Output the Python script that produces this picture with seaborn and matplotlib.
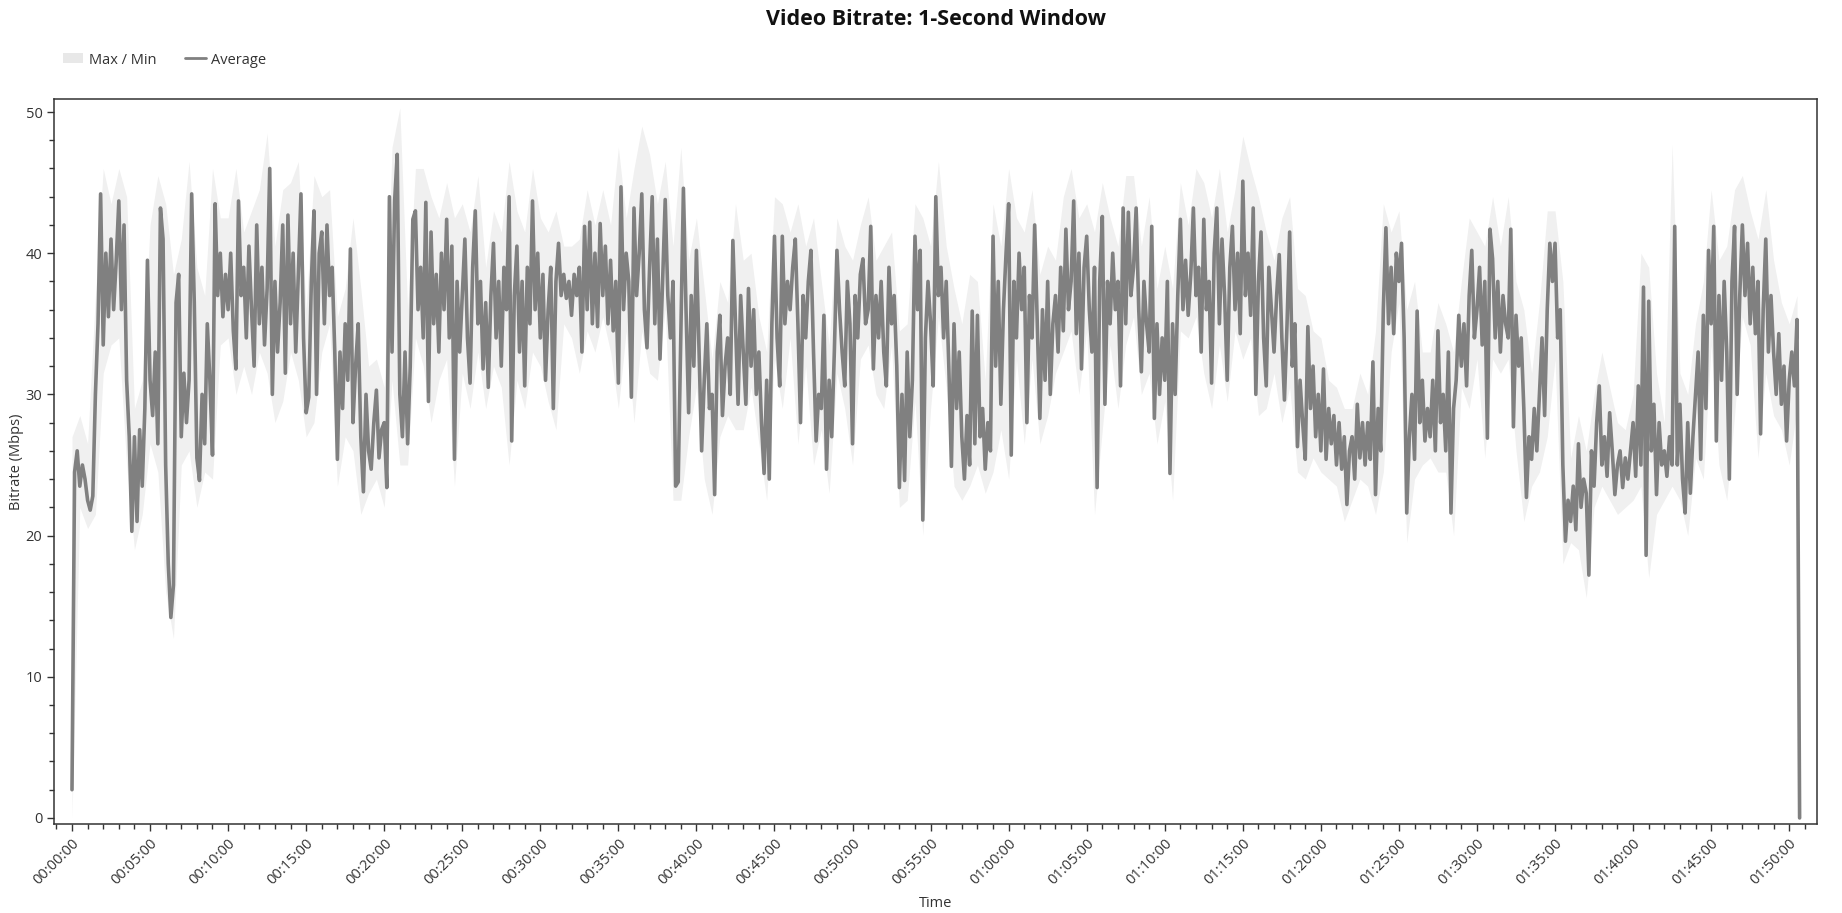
import numpy as np
import matplotlib
matplotlib.use("Agg")
import matplotlib.pyplot as plt
from matplotlib.ticker import MultipleLocator, FuncFormatter
from matplotlib.patches import Patch
from matplotlib.lines import Line2D
import seaborn as sns

# ---- data: 10-second average bitrate (Mbps) ----
avg_mbps = [
    2, 24.5, 26, 23.5, 25, 24, 22.5, 21.8, 22.8, 30, 35, 44.2,
    33.5, 40, 35.5, 41, 36, 39.5, 43.7, 36, 42, 31, 27, 20.3,
    27, 21, 27.5, 23.5, 29, 39.5, 31, 28.5, 33, 26.5, 43.2, 41,
    25, 18, 14.2, 16.5, 36.5, 38.5, 27, 31.5, 28, 31, 44.2, 36.5,
    25.5, 23.9, 30, 26.5, 35, 31, 25.7, 43.5, 37, 40, 35.5, 38.5,
    36, 40, 34.5, 31.8, 43.7, 37, 39, 34, 40.5, 36, 32, 42,
    35, 39, 33.5, 37.5, 46, 30, 38, 33, 36.5, 42, 31.5, 42.7,
    35, 40, 33, 38.5, 44.2, 34, 28.7, 29.8, 38, 43, 30, 40,
    41.5, 35, 42, 37, 39, 33, 25.4, 33, 29, 35, 31, 40.3,
    28, 32, 35, 27, 23.1, 30, 26, 24.7, 28, 30.3, 25.5, 27.5,
    28, 23.4, 44, 33, 43.7, 47, 30, 27, 33, 26.5, 32, 42.4,
    43, 36, 39, 34, 43.6, 29.5, 41.5, 35, 38.5, 33, 40, 36,
    42.4, 34, 40.5, 25.4, 38, 33, 37, 41, 34, 30.8, 39, 43,
    35, 38, 31.8, 36.5, 30.5, 37, 40.7, 34, 38, 32, 39, 36,
    44, 26.7, 37, 40.5, 33, 38, 30.6, 39, 35, 43.7, 36, 40,
    34, 38.5, 31, 36, 39, 29, 38, 40.7, 37, 38.5, 36.8, 38,
    35.6, 38.5, 37, 39, 33, 41.9, 36, 42.2, 35, 40, 34.8, 42.1,
    37, 40.5, 35, 39.5, 34.5, 38, 30.8, 44.7, 36, 40, 38, 29.8,
    43.2, 37, 40, 44.2, 36, 33.3, 39, 44, 35, 41, 32.5, 38,
    43.8, 37, 34, 38, 23.5, 23.8, 34, 44.6, 36, 28.7, 37, 32,
    40.2, 33, 26, 31, 35, 29, 30, 22.9, 33, 35.6, 28.5, 32,
    34, 30, 40.9, 35, 29.3, 37, 33, 29.3, 37.5, 32, 36, 30,
    33, 28, 24.4, 31, 24, 35, 41.2, 34, 30.6, 41.2, 35, 38,
    36, 39, 41, 35, 28, 37, 34, 38, 40.2, 33, 26.7, 30,
    29, 35.6, 24.7, 31, 27, 33, 40.2, 36, 33, 30.6, 38, 35,
    26.5, 37, 34, 38.5, 39.6, 35, 36, 41.9, 31.8, 37, 34, 38,
    33, 30.6, 39, 35, 37, 32, 23.4, 30, 23.9, 33, 27, 31,
    41.2, 36, 40.2, 21.1, 34, 38, 35, 30.6, 44, 37, 39, 34,
    38, 32, 24.9, 35, 29, 33, 27, 24, 28.5, 25, 35.9, 26.5,
    35.6, 27, 29, 24.7, 28, 26, 41.2, 32, 38, 29.3, 36, 40,
    43.5, 25.7, 38, 34, 40, 36, 39, 28, 37, 34, 42, 35,
    28.3, 36, 31, 38, 30, 35, 37, 33, 39, 34.5, 41.7, 36,
    38, 43.7, 34.3, 40, 31.8, 39, 41.2, 36, 33, 39, 23.4, 38,
    42.6, 29.3, 38, 35, 40, 36, 38, 30.6, 43.2, 35, 42.9, 37,
    39, 43.2, 36, 31.6, 38, 35, 33, 41.9, 28.3, 35, 30, 34,
    31, 38, 24.4, 35, 30, 37, 42.4, 36, 39.5, 35.6, 38.5, 43.2,
    37, 39, 33, 42.4, 36, 38, 30.8, 40, 43.2, 35, 41, 37,
    31, 39, 41.9, 36, 40, 34.3, 45.1, 37, 40, 35.6, 43.2, 30,
    38, 41.5, 34, 30.6, 39, 36, 33, 37, 39.9, 34, 29.6, 35,
    41.5, 32, 35, 26.3, 31, 28, 25.4, 34.8, 29, 32, 27, 30,
    26, 31.8, 25.4, 29, 26.5, 28.5, 25, 28, 24.7, 27, 22.2, 26,
    27, 24, 29.3, 25.5, 28, 25, 28, 25.4, 32.3, 22.9, 29, 26,
    36, 41.8, 35, 39, 34.3, 40, 38, 40.7, 34, 21.6, 27, 30,
    25.4, 35.9, 28, 31, 26.7, 29, 27, 31, 26, 34.5, 28, 30,
    26, 33, 21.6, 29, 31, 35.6, 32, 35, 30.6, 37, 40.2, 34,
    36, 39, 33.5, 38, 26.9, 41.7, 39.6, 34, 38, 33, 37, 35,
    34, 41.7, 27.7, 35.6, 32, 34, 29, 22.7, 27, 25.4, 29, 26,
    30, 34, 28.5, 36, 40.7, 38, 40.7, 34, 36, 25, 19.6, 22.5,
    21, 23.5, 20.4, 26.5, 22, 24, 23, 17.2, 26, 23.5, 28, 30.6,
    25, 27, 24.2, 28.7, 26, 22.9, 25, 26, 23.4, 25.5, 24, 26,
    28, 24.2, 30.6, 25, 37.6, 18.6, 36.6, 26, 29.3, 22.9, 28, 25,
    26, 24.2, 27, 25, 41.9, 25, 29.3, 24, 21.6, 28, 23, 27,
    30, 33, 25.4, 35.6, 29, 40.2, 35, 41.9, 26.7, 37, 31, 38,
    33, 24, 38, 41.9, 30, 37, 42, 37, 40.7, 35, 39, 34.3,
    38, 27.2, 36, 41, 33, 37, 33, 30, 34.3, 29.3, 32, 26.7,
    31, 33, 30.6, 35.3, 0,
]

# ---- data: 30-second max / min envelope (Mbps) ----
max_mbps = [
    27, 28.5, 26.5, 37, 46, 43.5, 46, 44, 29, 31, 42, 45.5,
    43.5, 38.5, 41, 46.5, 39, 37, 46, 42.5, 42.5, 46, 41.5, 43,
    44.5, 48.5, 40.5, 44.5, 45, 46.5, 36, 45.5, 44, 44.5, 35.5, 37.5,
    42.5, 37.5, 32, 32.5, 30.5, 47.5, 50.3, 36, 46, 46, 44, 42.5,
    45, 42.5, 43.5, 41.5, 45.5, 39, 43, 41.5, 46.5, 43, 41.5, 46,
    42.5, 41.5, 43, 40.5, 40.5, 41, 44.5, 42, 44.5, 42, 47.5, 42.5,
    46, 49, 47, 43.5, 46.5, 40.5, 47.5, 39.5, 42.5, 37.5, 32.5, 38,
    36.5, 43.5, 39.5, 40, 35.5, 33, 44, 43.5, 41.5, 43.5, 40.5, 42.5,
    38, 33.5, 42.5, 40.5, 39.5, 42, 44, 39.5, 40.5, 41.5, 34.5, 35,
    43.5, 42.5, 40.5, 46.5, 40.5, 37.5, 35, 38.5, 38, 31, 43.5, 40.5,
    46, 42.5, 41.5, 44.5, 38.5, 40.5, 39.5, 44, 46, 42.5, 43.5, 41.5,
    45, 42.5, 40.5, 45.5, 45.5, 40.5, 44, 37.5, 40.5, 37.5, 45, 42,
    46, 45, 42.5, 46, 41.5, 44.5, 48.3, 46, 44, 41.5, 39.5, 42.5,
    44, 37.5, 37, 34.5, 34, 31, 30.5, 29, 29, 31.5, 30, 34.5,
    43.5, 41.5, 43, 36, 38, 33, 33, 36.5, 35, 33, 38, 42.5,
    41.5, 40.5, 44, 40.5, 44, 38, 36, 31.5, 36.5, 43, 43, 38,
    25.5, 28.5, 26, 30, 33, 30.5, 28, 27.5, 30, 40, 39, 31.5,
    28, 47.7, 31.5, 30, 35, 38, 44.5, 39.5, 40.5, 44.5, 45.5, 43,
    41, 44.5, 39.5, 36.5, 35, 37, 0,
]
min_mbps = [
    0, 22, 20.5, 21.5, 31.5, 33.5, 34, 25, 19, 21.5, 26.5, 24.5,
    16, 12.7, 25, 26, 22, 24.5, 24, 33.5, 34, 30, 32, 30,
    33, 31.5, 28, 29.5, 33, 31, 27, 28, 33, 35, 23.5, 27,
    26, 21.5, 23, 24, 22, 31, 25, 25, 34, 32, 28, 31,
    32.5, 23.5, 31.5, 29, 33, 29, 32, 30.5, 25, 31, 29, 33,
    32, 29.5, 27.5, 35, 34, 31.5, 34.5, 33, 35.5, 33, 29, 34.5,
    28, 34.5, 31.5, 31, 36, 22.5, 22.5, 27, 30.5, 24, 21.5, 27,
    28.5, 27.5, 27.5, 30.5, 26.5, 22.5, 32.5, 29, 34, 26.5, 32, 25,
    27.5, 23, 31.5, 29, 25, 32.5, 33.5, 30, 29, 33.5, 22, 22.5,
    29.5, 20, 29, 35.5, 30.5, 23.5, 22.5, 23.5, 25, 23, 24.5, 27.5,
    24, 32.5, 26.5, 32.5, 26.5, 28.5, 31.5, 33, 34.5, 30, 34.5, 21.5,
    27.5, 33.5, 29, 33.5, 35.5, 30, 31.5, 26.5, 29.5, 22.5, 34.5, 34,
    35.5, 31.5, 29, 33.5, 29.5, 34.5, 32.5, 34, 28.5, 29, 31.5, 28,
    30.5, 24.5, 24, 25.5, 24.5, 24, 23.5, 21, 22.5, 24, 23.5, 21.5,
    24.5, 33, 36.5, 19.5, 24, 25, 25.5, 24.5, 24.5, 20, 30.5, 29,
    32.5, 25.5, 32.5, 31.5, 32.5, 26, 21, 23.5, 24.5, 27, 32.5, 18,
    19.5, 19, 15.6, 22, 23.5, 22.5, 21.5, 22, 22.5, 23.5, 17, 21.5,
    22.5, 23.5, 22.5, 20, 25.5, 24, 33.5, 25, 22.5, 28.5, 35.5, 33.5,
    25.5, 31.5, 28.5, 27.5, 25, 29, 0,
]

AVG_STEP_S = 10
BAND_STEP_S = 30
avg_t = np.arange(len(avg_mbps)) * AVG_STEP_S
band_t = np.append(np.arange(len(max_mbps) - 1) * BAND_STEP_S, avg_t[-1])

title_text = "Video Bitrate: 1-Second Window"
legend_labels = ["Max / Min", "Average"]
x_label = "Time"
y_label = "Bitrate (Mbps)"

# ---- styling ----
sns.set_style("ticks")
plt.rcParams["font.family"] = ["Open Sans", "DejaVu Sans"]
plt.rcParams["axes.edgecolor"] = "#333333"
plt.rcParams["xtick.color"] = "#333333"
plt.rcParams["ytick.color"] = "#333333"

W, H = 1842, 913
fig = plt.figure(figsize=(W / 100, H / 100), dpi=100)
ax_l, ax_r, ax_t, ax_b = 54.3, 1817.3, 99.3, 824.3
ax = fig.add_axes([ax_l / W, 1 - ax_b / H, (ax_r - ax_l) / W, (ax_b - ax_t) / H])

line_color = "#808080"
band_color = "#f0f0f0"

ax.fill_between(band_t, min_mbps, max_mbps, color=band_color, linewidth=0, zorder=1)
sns.lineplot(x=avg_t, y=avg_mbps, ax=ax, color=line_color, linewidth=2.6,
             estimator=None, sort=False, zorder=2, legend=False)

ax.set_xlim(-68, 6708)
ax.set_ylim(-0.45, 50.9)

def fmt_time(v, pos):
    v = int(round(v))
    h, r = divmod(v, 3600)
    m, s = divmod(r, 60)
    return f"{h:02d}:{m:02d}:{s:02d}"

ax.xaxis.set_major_locator(MultipleLocator(300))
ax.xaxis.set_minor_locator(MultipleLocator(60))
ax.xaxis.set_major_formatter(FuncFormatter(fmt_time))
ax.yaxis.set_major_locator(MultipleLocator(10))
ax.yaxis.set_minor_locator(MultipleLocator(2))

ax.tick_params(axis="both", which="major", length=5, width=1, labelsize=10.5,
               labelcolor="#333333", direction="out")
ax.tick_params(axis="both", which="minor", length=3.5, width=1, direction="out")
for lbl in ax.get_xticklabels():
    lbl.set_rotation(45)
    lbl.set_ha("right")
    lbl.set_rotation_mode("anchor")

for sp in ax.spines.values():
    sp.set_visible(True)
    sp.set_linewidth(1.1)
    sp.set_color("#333333")

ax.set_xlabel(x_label, fontsize=10.5, color="#333333", va="center")
ax.set_ylabel(y_label, fontsize=10.5, color="#333333", va="center")
ax.xaxis.set_label_coords(0.5, (ax_b - 903) / (ax_b - ax_t))
ax.yaxis.set_label_coords((16.5 - ax_l) / (ax_r - ax_l), 0.5)

fig.text((ax_l + ax_r) / 2 / W, 1 - 19.5 / H, title_text, ha="center", va="center",
         fontsize=15.5, fontweight="bold", color="#111111")

handles = [Patch(facecolor="#e8e8e8", edgecolor="none"),
           Line2D([0], [0], color=line_color, linewidth=2)]
fig.legend(handles, legend_labels, loc="center left",
           bbox_to_anchor=(63 / W, 1 - 60 / H), ncol=2, frameon=False,
           borderpad=0, borderaxespad=0,
           fontsize=10.5, handlelength=1.4, handletextpad=0.35, columnspacing=2.0,
           labelcolor="#333333")

fig.savefig("out.png", dpi=100)
